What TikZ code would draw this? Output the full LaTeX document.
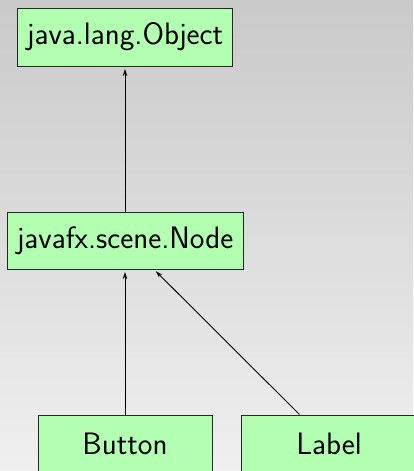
\documentclass[tikz,border=0pt]{standalone}
\usetikzlibrary{arrows.meta}
\begin{document}
\begin{tikzpicture}[x=1pt,y=-1pt,
  cls/.style={draw=black!85, line width=1pt, fill=green!30, font=\sffamily\fontsize{31}{36}\selectfont, inner sep=0pt},
  inh/.style={-{Stealth[length=7pt,width=4.5pt]}, line width=0.9pt, shorten >=2.5pt}]
\useasboundingbox (0,0) rectangle (413,471);
\shade[top color=black!21, bottom color=black!6] (0,0) rectangle (413,471);
\node[cls, minimum width=215pt, minimum height=58pt] (obj) at (125,37) {java.lang.Object};
\node[cls, minimum width=236pt, minimum height=57pt] (nd) at (125,240.5) {javafx.scene.Node};
\node[cls, minimum width=174pt, minimum height=58pt] (btn) at (125,444) {Button};
\node[cls, minimum width=176pt, minimum height=58pt] (lbl) at (329,444) {Label};
\draw[inh] (nd) -- (obj);
\draw[inh] (btn) -- (nd);
\draw[inh] (lbl) -- (nd);
\end{tikzpicture}
\end{document}
